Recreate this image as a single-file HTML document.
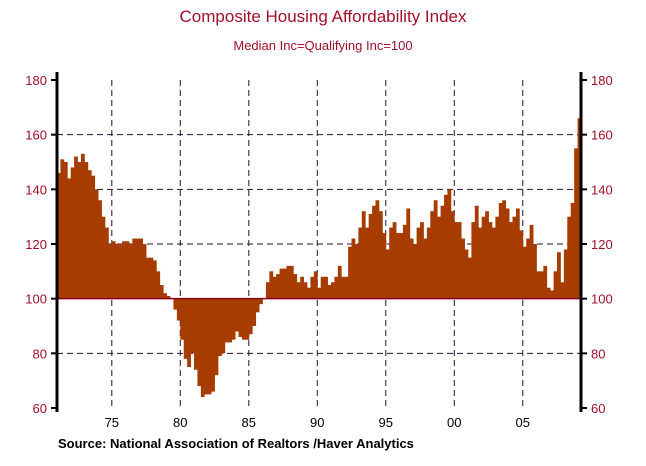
<!DOCTYPE html>
<html><head><meta charset="utf-8"><style>
body{margin:0;background:#fff;width:646px;height:461px;overflow:hidden;font-family:"Liberation Sans",sans-serif}
</style></head><body>
<svg id="c" width="646" height="461">
<text x="323" y="22" text-anchor="middle" font-size="17" fill="#a0102a">Composite Housing Affordability Index</text>
<text x="323" y="50" text-anchor="middle" font-size="13" fill="#a0102a">Median Inc=Qualifying Inc=100</text>
<g id="grid"></g><g id="bars"></g><g id="axes"></g>
<text x="58" y="448" font-size="13" font-weight="bold" fill="#000">Source:  National Association of Realtors /Haver Analytics</text>
</svg>
<script>
const years=[1971,1972,1973,1974,1975,1976,1977,1978,1979,1980,1981,1982,1983,1984,1985,1986,1987,1988,1989,1990,1991,1992,1993,1994,1995,1996,1997,1998,1999,2000,2001,2002,2003,2004,2005,2006,2007,2008,2009];
const values=[146,151,150,144,148,152,150,153,150,147,145,140,136,130,126,120,121,120,120,121,121,120,122,122,122,120,115,115,114,110,105,102,101,100,96,92,85,78,75,80,74,68,64,65,65,66,72,79,80,84,84,85,88,86,85,85,87,90,95,98,100,106,110,108,109,111,111,112,112,109,106,108,106,104,108,110,104,108,108,105,106,108,112,108,108,119,122,120,126,132,126,131,134,136,132,124,118,126,128,124,124,127,133,122,120,126,128,122,126,132,136,130,134,138,140,132,128,128,122,118,115,128,134,126,130,132,128,126,130,135,136,133,128,130,133,125,119,122,127,120,110,110,112,104,103,110,117,106,118,130,135,155,166];
const yTicks=[60,80,100,120,140,160,180];
const xTickYears=[1975,1980,1985,1990,1995,2000,2005];
const xTickLabels=["75","80","85","90","95","00","05"];
const L=57,R=581,T=80,B=408;
const x0=1971,x1=2009.25;
const X=t=>L+(t-x0)/(x1-x0)*(R-L);
const Y=v=>T+(180-v)/(180-60)*(B-T);
const ns="http://www.w3.org/2000/svg";
function mk(tag,parent,attrs){const e=document.createElementNS(ns,tag);for(const k in attrs)e.setAttribute(k,attrs[k]);parent.appendChild(e);return e;}
const grid=document.getElementById('grid'),bars=document.getElementById('bars'),axes=document.getElementById('axes');
yTicks.forEach(v=>{
 if(v!==60&&v!==180&&v!==100){const g=mk('line',grid,{x1:L,x2:R,y1:Y(v),y2:Y(v),stroke:'#2a1030','stroke-dasharray':'6,4'});
 
 }
 const a=mk('text',axes,{x:L-10,y:Y(v)+5,'text-anchor':'end','font-size':13,fill:'#a0102a'});a.textContent=v;
 
 
 const b=mk('text',axes,{x:R+10,y:Y(v)+5,'text-anchor':'start','font-size':13,fill:'#a0102a'});b.textContent=v;
 
 
 mk('line',axes,{x1:L-6,x2:L,y1:Y(v),y2:Y(v),stroke:'#000','stroke-width':2});
 mk('line',axes,{x1:R,x2:R+6,y1:Y(v),y2:Y(v),stroke:'#000','stroke-width':2});
});
xTickYears.forEach((t,i)=>{
 const g=mk('line',grid,{x1:X(t),x2:X(t),y1:T,y2:B,stroke:'#2a1030','stroke-dasharray':'6,4'});
 
 
 const tx=mk('text',axes,{x:X(t),y:B+19,'text-anchor':'middle','font-size':13,fill:'#000'});tx.textContent=xTickLabels[i];
 
 
});
const w=(X(1972)-X(1971))/4;
values.forEach((v,i)=>{
 const t=x0+i/4;const y=Y(v),y100=Y(100);
 const r=mk('rect',bars,{x:X(t),y:Math.min(y,y100),width:w+0.4,height:Math.abs(y-y100),fill:'#a63c00'});
 
 
});
const bl=mk('line',axes,{x1:L,x2:R,y1:Y(100),y2:Y(100),stroke:'#8a0020','stroke-width':1.5});


mk('line',axes,{x1:L,x2:L,y1:T-8,y2:B+4,stroke:'#000','stroke-width':3});
mk('line',axes,{x1:R,x2:R,y1:T-8,y2:B+4,stroke:'#000','stroke-width':3});
</script>
</body></html>
